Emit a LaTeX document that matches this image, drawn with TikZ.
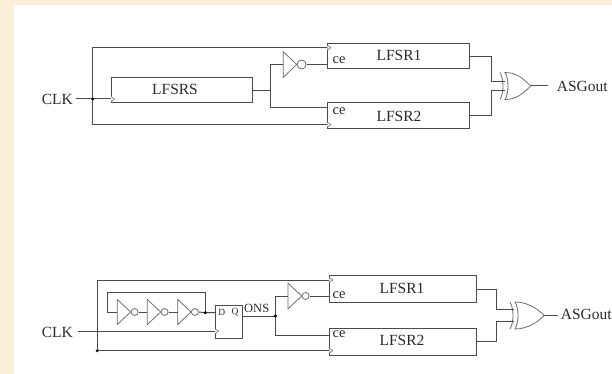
\documentclass[tikz,border=0pt]{standalone}
\usepackage{fontspec}
\setmainfont{Liberation Serif}
\definecolor{bgcream}{HTML}{FBEFD8}
\definecolor{ink}{HTML}{4A4A4A}
\definecolor{txt}{HTML}{2A2A2A}
\tikzset{
  wire/.style={draw=ink,line width=1pt},
  gate/.style={draw=ink!80,line width=0.8pt,fill=white},
  block/.style={draw=ink,line width=1pt,anchor=north west,inner sep=0pt,outer sep=0pt},
  lbl/.style={text=txt,font=\fontsize{15.5}{15.5}\selectfont,inner sep=0pt},
  cetxt/.style={text=txt,font=\fontsize{14.5}{14.5}\selectfont,inner sep=0pt},
  small/.style={text=txt,font=\fontsize{12.5}{12.5}\selectfont,inner sep=0pt},
  tiny/.style={text=txt,font=\fontsize{9.5}{9.5}\selectfont,inner sep=0pt},
  junction/.style={circle,fill=black,inner sep=0pt,minimum size=3.4pt},
  bubble/.style={circle,draw=ink!80,line width=0.8pt,fill=white,inner sep=0pt,minimum size=#1},
}
\newcommand{\inverter}[6]{%
  \coordinate (#1in) at (#2,#4);
  \path[gate] (#2,#4-#5) -- (#3,#4) -- (#2,#4+#5) -- cycle;
  \node[bubble=#6,anchor=west] (#1) at (#3,#4) {};
}
\newcommand{\clockmark}[2]{%
  \draw[draw=ink!80,line width=0.6pt,fill=white] (#1,#2-2.5) -- (#1+3.5,#2) -- (#1,#2+2.5);
}
\newcommand{\xorgate}[5]{%
  \coordinate (#1) at (#3,#4);
  \draw[gate,fill=white] (#2+5,#4-#5) .. controls (#2+16,#4-#5) and (#3-8,#4-8) .. (#3,#4)
     .. controls (#3-8,#4+8) and (#2+16,#4+#5) .. (#2+5,#4+#5)
     .. controls (#2+9,#4+7) and (#2+9,#4-7) .. (#2+5,#4-#5) -- cycle;
  \draw[gate,fill=none] (#2,#4-#5) .. controls (#2+4,#4-7) and (#2+4,#4+7) .. (#2,#4+#5);
}
\begin{document}
\begin{tikzpicture}[x=1pt,y=-1pt]
\path[use as bounding box,fill=bgcream] (0,0) rectangle (612,374);
\fill[white] (14,5) rectangle (612,374);

%%% ---- top circuit ----
\node[lbl,anchor=east] (clkA) at (73,99.5) {CLK};
\node[block,minimum width=141.7pt,minimum height=25pt] (lfsrs) at (111,77.7) {};
\node[lbl] (lfsrstxt) at (175,89) {LFSRS};
\node[block,minimum width=141.7pt,minimum height=24.7pt] (r1a) at (327.3,44) {};
\node[lbl] (r1atxt) at (399,55.5) {LFSR1};
\node[block,minimum width=141.7pt,minimum height=26pt] (r2a) at (327.3,102.7) {};
\node[lbl] (r2atxt) at (399,116) {LFSR2};
\node[cetxt] (cea) at (339,60.3) {ce};
\node[cetxt] (ceb) at (339,111.5) {ce};
\coordinate (jclkA) at (92.7,99);
\coordinate (startA) at (75.7,99);
\coordinate (tapA) at (270,90.3);
\coordinate (r1clkA) at (327.3,47.7);
\coordinate (r2clkA) at (327.3,124.7);
\inverter{invA}{283.3}{296.7}{64.5}{12.8}{9pt}
\xorgate{xorA}{500}{530.7}{86}{13.5}
\node[lbl,anchor=west] (outA) at (556.7,86) {ASGout};
\coordinate (outAend) at (548,86);

\draw[wire] (startA) -- (lfsrs.west |- startA);
\draw[wire] (r1clkA) -- (jclkA |- r1clkA) -- (jclkA |- r2clkA) -- (r2clkA);
\draw[wire] (lfsrs.east |- tapA) -- (tapA);
\draw[wire] (invAin) -- (tapA |- invAin) -- (tapA |- 0,107.7) -- (r2a.west |- 0,107.7);
\draw[wire] (invA.east) -- (r1a.west |- invA.east);
\draw[wire] (r1a.east |- 0,56.3) -- (491.7,56.3) -- (491.7,81.7) -- (504.5,81.7);
\draw[wire] (r2a.east |- 0,116) -- (491.7,116) -- (491.7,90.7) -- (504.5,90.7);
\draw[wire] (xorA) -- (outAend);
\node[junction] (dotA) at (jclkA) {};
\clockmark{327.3}{47.7}
\clockmark{327.3}{124.7}
\clockmark{111}{99}

%%% ---- bottom circuit ----
\node[lbl,anchor=east] (clkB) at (73,332) {CLK};
\node[block,minimum width=27pt,minimum height=32.6pt] (dff) at (215,305.7) {};
\node[tiny] (dD) at (221.7,312.5) {D};
\node[tiny] (dQ) at (235,312.5) {Q};
\node[small] (ons) at (256.7,308) {ONS};
\node[block,minimum width=147.4pt,minimum height=27pt] (r1b) at (329.3,275.7) {};
\node[lbl] (r1btxt) at (402,288) {LFSR1};
\node[block,minimum width=147.4pt,minimum height=27pt] (r2b) at (329.3,328.3) {};
\node[lbl] (r2btxt) at (402,340) {LFSR2};
\node[cetxt] (cec) at (339,295) {ce};
\node[cetxt] (ced) at (339,334.5) {ce};
\coordinate (startB) at (77.7,331.3);
\coordinate (loopTL) at (97.3,280);
\coordinate (loopBL) at (97.3,350.7);
\coordinate (fbj) at (205.3,312.7);
\coordinate (qj) at (275.3,316);
\inverter{i1}{117.3}{130.7}{312}{12.5}{7pt}
\inverter{i2}{147.3}{160.7}{312}{12.5}{7pt}
\inverter{i3}{177.7}{191}{312}{12.5}{7pt}
\inverter{invB}{288}{301.7}{296}{12.8}{7pt}
\xorgate{xorB}{510}{544.3}{315.5}{13.5}
\node[lbl,anchor=west] (outB) at (560.7,314) {ASGout};
\coordinate (outBend) at (558,315.5);

\draw[wire] (startB) -- (dff.west |- startB);
\draw[wire] (r1b.west |- loopTL) -- (loopTL) -- (loopBL) -- (r2b.west |- loopBL);
\draw[wire] (i1in) -- (107.3,312) -- (107.3,292.7) -- (205.3,292.7) -- (fbj);
\draw[wire] (i1.east) -- (i2in);
\draw[wire] (i2.east) -- (i3in);
\draw[wire] (i3.east) -- (fbj) -- (dff.west |- fbj);
\draw[wire] (dff.east |- qj) -- (qj);
\draw[wire] (invBin) -- (qj |- invBin) -- (qj |- 0,335.3) -- (r2b.west |- 0,335.3);
\draw[wire] (invB.east) -- (r1b.west |- invB.east);
\draw[wire] (r1b.east |- 0,289) -- (496.7,289) -- (496.7,309.3) -- (514,309.3);
\draw[wire] (r2b.east |- 0,341.3) -- (496.7,341.3) -- (496.7,321.3) -- (514,321.3);
\draw[wire] (xorB) -- (outBend);
\node[junction] (dotB1) at (loopBL) {};
\node[junction] (dotB2) at (fbj) {};
\node[junction] (dotB3) at (qj) {};
\clockmark{329.3}{280}
\clockmark{329.3}{350.7}
\clockmark{215}{331.3}
\end{tikzpicture}
\end{document}
